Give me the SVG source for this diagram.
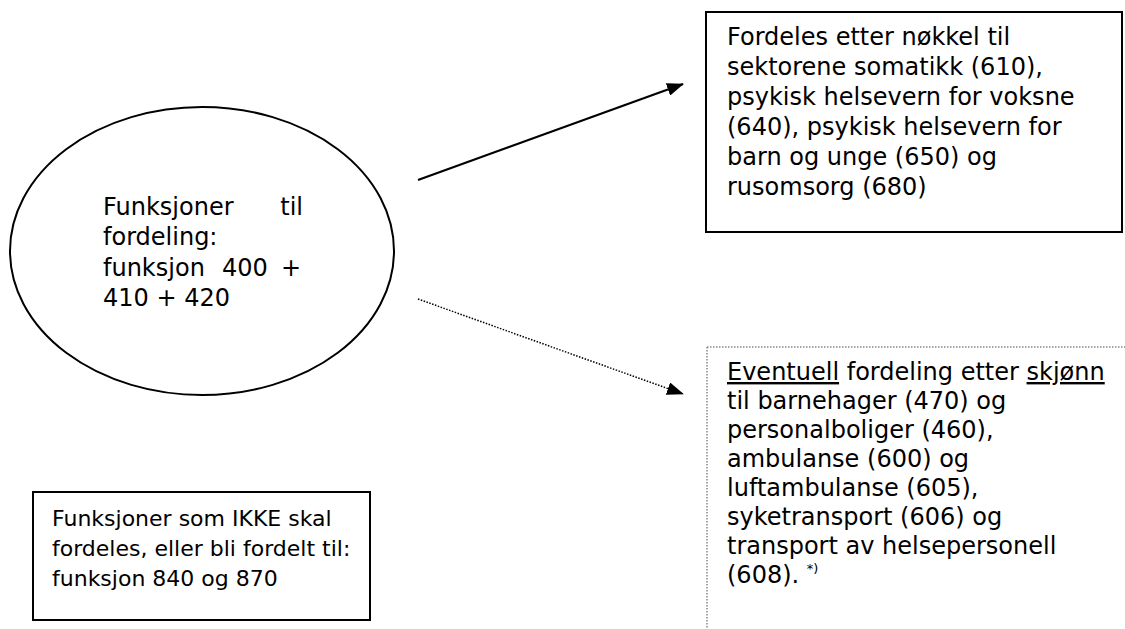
<svg xmlns="http://www.w3.org/2000/svg" width="1125" height="629" viewBox="0 0 1125 629">
<style>
  .t{font-family:"DejaVu Sans",Verdana,sans-serif;fill:#000;}
  .big{font-size:24px;}
  .small{font-size:22px;}
  .shape{fill:#fff;stroke:#000;stroke-width:2;}
  .conn{stroke:#000;fill:none;}
</style>
<defs>
  <marker id="ah" markerWidth="17" markerHeight="13" refX="16" refY="6.5" orient="auto" markerUnits="userSpaceOnUse">
    <path d="M0,0 L17,6.5 L0,13 z" fill="#000"/>
  </marker>
</defs>
<rect width="1125" height="629" fill="#fff"/>
<g id="ellipse-node">
  <ellipse class="shape" cx="202" cy="251" rx="192" ry="144"/>
  <text class="t big" x="103" y="215">Funksjoner</text>
  <text class="t big" x="303" y="215" text-anchor="end">til</text>
  <text class="t big" x="103" y="245">fordeling:</text>
  <text class="t big" x="103" y="276">funksjon</text>
  <text class="t big" x="222" y="276">400</text>
  <text class="t big" x="301" y="276" text-anchor="end">+</text>
  <text class="t big" x="103" y="306">410 + 420</text>
</g>
<g id="top-box">
  <rect class="shape" x="706" y="12" width="416" height="220"/>
  <text class="t big" x="727" y="45">Fordeles etter nøkkel til</text>
  <text class="t big" x="727" y="75">sektorene somatikk (610),</text>
  <text class="t big" x="727" y="105">psykisk helsevern for voksne</text>
  <text class="t big" x="727" y="135">(640), psykisk helsevern for</text>
  <text class="t big" x="727" y="165">barn og unge (650) og</text>
  <text class="t big" x="727" y="195">rusomsorg (680)</text>
</g>
<g id="bottom-right-box">
  <path d="M707,347 H1125 M707,347 V629" stroke="#888" stroke-width="1.5" stroke-dasharray="1.5,1.5" fill="none"/>
  <text class="t big" x="727" y="380"><tspan text-decoration="underline">Eventuell</tspan> fordeling etter <tspan text-decoration="underline">skjønn</tspan></text>
  <text class="t big" x="727" y="409">til barnehager (470) og</text>
  <text class="t big" x="727" y="438">personalboliger (460),</text>
  <text class="t big" x="727" y="467">ambulanse (600) og</text>
  <text class="t big" x="727" y="496">luftambulanse (605),</text>
  <text class="t big" x="727" y="525">syketransport (606) og</text>
  <text class="t big" x="727" y="554">transport av helsepersonell</text>
  <text class="t big" x="727" y="583">(608). <tspan font-size="13" dy="-10">*)</tspan></text>
</g>
<g id="bottom-left-box">
  <rect class="shape" x="33" y="492" width="337" height="128"/>
  <text class="t small" x="52" y="526">Funksjoner som IKKE skal</text>
  <text class="t small" x="52" y="556">fordeles, eller bli fordelt til:</text>
  <text class="t small" x="52" y="586">funksjon 840 og 870</text>
</g>
<g id="connectors">
  <line class="conn" x1="418" y1="180" x2="683" y2="84" stroke-width="2.2" marker-end="url(#ah)"/>
  <line class="conn" x1="418" y1="299" x2="683" y2="394" stroke-width="1.5" stroke-dasharray="1.5,1.5" marker-end="url(#ah)"/>
</g>
</svg>
